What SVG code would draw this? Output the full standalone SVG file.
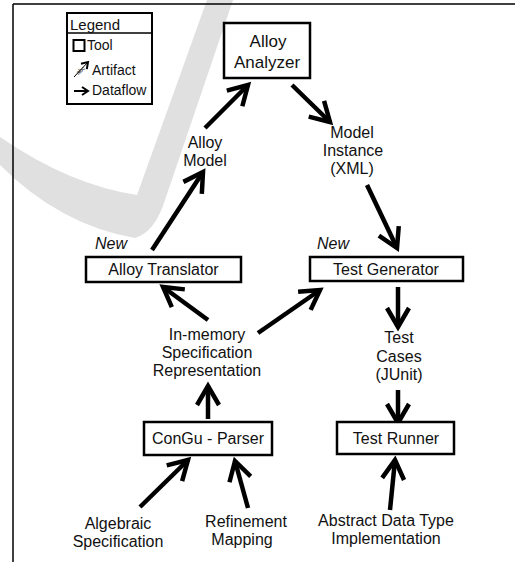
<svg xmlns="http://www.w3.org/2000/svg" width="515" height="562" viewBox="0 0 515 562">
<style>
text{font-family:"Liberation Sans",Arial,sans-serif;fill:#111}
.t{font-size:16px;text-anchor:middle}
.tb{font-size:17px;text-anchor:middle}
.n{font-size:16px;font-style:italic}
.lg{font-size:14px}
.box{fill:#fff;stroke:#000;stroke-width:2.5}
.fl{fill:none;stroke:#000;stroke-width:4.5}
.wm{fill:#e0e0e0}
</style>
<defs>
<marker id="ah" markerUnits="userSpaceOnUse" markerWidth="30" markerHeight="30" viewBox="-24 -15 28 30" refX="0" refY="0" orient="auto">
<path d="M-19,-11 L0,0 L-19,11" fill="none" stroke="#000" stroke-width="4.5"/>
</marker>
<marker id="ahs" markerUnits="userSpaceOnUse" markerWidth="12" markerHeight="12" viewBox="-8 -6 10 12" refX="0" refY="0" orient="auto">
<path d="M-6,-4 L0,0 L-6,4" fill="none" stroke="#000" stroke-width="2"/>
</marker>
</defs>
<rect width="515" height="562" fill="#fff"/>
<g id="watermark">
<path class="wm" d="M207,0 L233,0 L165,200 Q155,232 135,238 Q60,225 0,165 L0,137 Q70,185 137,195 Z"/>
</g>
<g id="frame" stroke="#000" stroke-width="1.5" fill="none">
<path d="M13,4 L515,4 M13,4 L13,562"/>
</g>
<g id="legend">
<rect x="67" y="13" width="85" height="91" fill="#fff" stroke="#000" stroke-width="2"/>
<line x1="67" y1="33" x2="152" y2="33" stroke="#000" stroke-width="1.5"/>
<text x="70" y="30" style="font-size:15px">Legend</text>
<rect x="73.5" y="40" width="11" height="11" fill="none" stroke="#000" stroke-width="2"/>
<text class="lg" x="87" y="50">Tool</text>
<line x1="74" y1="77" x2="88" y2="62" stroke="#000" stroke-width="1" marker-end="url(#ahs)"/>
<text x="76" y="73" font-size="6" transform="rotate(-40 80 71)">abc</text>
<text class="lg" x="92" y="75">Artifact</text>
<line x1="74" y1="91" x2="88" y2="91" stroke="#000" stroke-width="2" marker-end="url(#ahs)"/>
<text class="lg" x="92" y="95">Dataflow</text>
</g>
<g id="connectors">
<line class="fl" x1="152" y1="250" x2="203" y2="172" marker-end="url(#ah)"/>
<line class="fl" x1="205" y1="128" x2="248" y2="85" marker-end="url(#ah)"/>
<line class="fl" x1="292" y1="85" x2="330" y2="122" marker-end="url(#ah)"/>
<line class="fl" x1="367" y1="185" x2="397" y2="248" marker-end="url(#ah)"/>
<line class="fl" x1="398" y1="287" x2="398" y2="327" marker-end="url(#ah)"/>
<line class="fl" x1="398" y1="390" x2="398" y2="423" marker-end="url(#ah)"/>
<line class="fl" x1="208" y1="320" x2="163" y2="287" marker-end="url(#ah)"/>
<line class="fl" x1="258" y1="333" x2="320" y2="290" marker-end="url(#ah)"/>
<line class="fl" x1="208" y1="419" x2="208" y2="386" marker-end="url(#ah)"/>
<line class="fl" x1="140" y1="507" x2="188" y2="460" marker-end="url(#ah)"/>
<line class="fl" x1="248" y1="508" x2="235" y2="461" marker-end="url(#ah)"/>
<line class="fl" x1="390" y1="510" x2="395" y2="460" marker-end="url(#ah)"/>
</g>
<g id="alloy-analyzer">
<rect class="box" x="224" y="23" width="86" height="55"/>
<text class="tb" x="268" y="47">Alloy</text>
<text class="tb" x="267" y="68">Analyzer</text>
</g>
<g id="alloy-model">
<text class="t" x="205" y="148">Alloy</text>
<text class="t" x="205" y="166">Model</text>
</g>
<g id="model-instance">
<text class="t" x="352" y="138">Model</text>
<text class="t" x="353" y="156">Instance</text>
<text class="t" x="352" y="174">(XML)</text>
</g>
<g id="alloy-translator">
<text class="n" x="95" y="249">New</text>
<rect class="box" x="86" y="257" width="155" height="25"/>
<text class="t" x="163.5" y="275">Alloy Translator</text>
</g>
<g id="test-generator">
<text class="n" x="317" y="249">New</text>
<rect class="box" x="310" y="257" width="153" height="24"/>
<text class="t" x="386" y="275">Test Generator</text>
</g>
<g id="in-memory">
<text class="t" x="207" y="340">In-memory</text>
<text class="t" x="207" y="358">Specification</text>
<text class="t" x="207" y="376">Representation</text>
</g>
<g id="test-cases">
<text class="t" x="399" y="343">Test</text>
<text class="t" x="399" y="362">Cases</text>
<text class="t" x="399" y="380">(JUnit)</text>
</g>
<g id="congu-parser">
<rect class="box" x="144" y="422" width="128" height="33"/>
<text class="t" x="208" y="444">ConGu - Parser</text>
</g>
<g id="test-runner">
<rect class="box" x="337" y="422" width="117" height="32"/>
<text class="t" x="396" y="444">Test Runner</text>
</g>
<g id="algebraic-spec">
<text class="t" x="118" y="529">Algebraic</text>
<text class="t" x="118" y="547">Specification</text>
</g>
<g id="refinement-mapping">
<text class="t" x="246" y="527">Refinement</text>
<text class="t" x="242" y="545">Mapping</text>
</g>
<g id="adt-impl">
<text class="t" x="386" y="526">Abstract Data Type</text>
<text class="t" x="386" y="544">Implementation</text>
</g>
</svg>
